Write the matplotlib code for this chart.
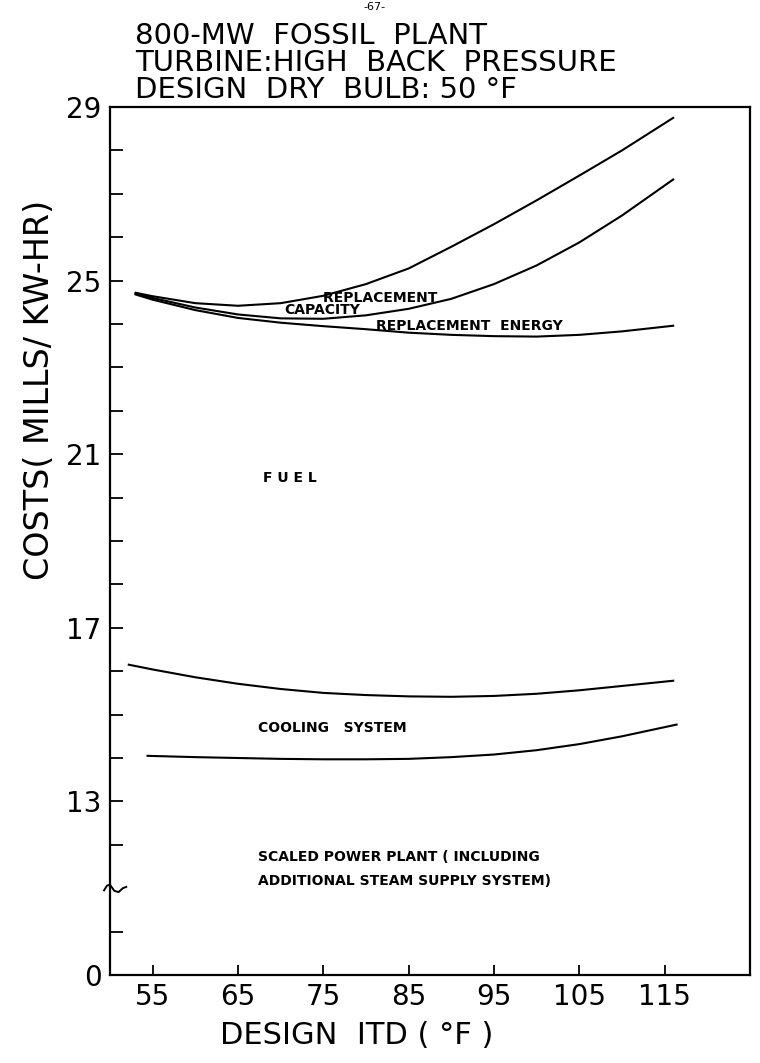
import numpy as np
import matplotlib.pyplot as plt

plt.rcParams['font.family'] = ['DejaVu Sans']

# Design ITD (deg F) sample points
itd_top = [53, 55, 60, 65, 70, 75, 80, 85, 90, 95, 100, 105, 110, 116]
# total incl. replacement capacity (upper curve)
cost_capacity = [24.72, 24.64, 24.48, 24.42, 24.48, 24.65, 24.92, 25.28, 25.78, 26.30, 26.85, 27.42, 28.00, 28.75]
# total incl. replacement energy (middle curve)
cost_energy = [24.70, 24.60, 24.38, 24.22, 24.13, 24.12, 24.20, 24.35, 24.58, 24.92, 25.35, 25.88, 26.50, 27.33]
# fuel (lower of the three)
cost_fuel = [24.68, 24.56, 24.32, 24.14, 24.03, 23.95, 23.88, 23.80, 23.75, 23.72, 23.71, 23.75, 23.83, 23.96]

itd_cool = [52.2, 55, 60, 65, 70, 75, 80, 85, 90, 95, 100, 105, 110, 116]
cost_cooling = [16.15, 16.04, 15.86, 15.71, 15.59, 15.50, 15.45, 15.42, 15.41, 15.43, 15.48, 15.56, 15.66, 15.78]

itd_plant = [54.4, 60, 65, 70, 75, 80, 85, 90, 95, 100, 105, 110, 116.4]
cost_plant = [14.05, 14.02, 14.00, 13.98, 13.97, 13.97, 13.98, 14.02, 14.08, 14.18, 14.32, 14.50, 14.77]

xticks = [55, 65, 75, 85, 95, 105, 115]
yticks = [9, 13, 17, 21, 25, 29]
ytick_labels = ['0', '13', '17', '21', '25', '29']
yminor = [10, 12, 14, 15, 16, 18, 19, 20, 22, 23, 24, 26, 27, 28]

title = ['800-MW  FOSSIL  PLANT', 'TURBINE:HIGH  BACK  PRESSURE', 'DESIGN  DRY  BULB: 50 \u00b0F']

fig = plt.figure(figsize=(7.6, 10.63), dpi=100)
ax = fig.add_axes([110/760, 1 - 975/1063, 640/760, 868/1063])

for xs, ys in [(itd_top, cost_capacity), (itd_top, cost_energy), (itd_top, cost_fuel),
               (itd_cool, cost_cooling), (itd_plant, cost_plant)]:
    ax.plot(xs, ys, color='black', lw=1.5)

ax.set_xlim(50, 125)
ax.set_ylim(9, 29)
ax.set_xticks(xticks)
ax.set_yticks(yticks)
ax.set_yticklabels(ytick_labels)
ax.set_yticks(yminor, minor=True)
ax.tick_params(axis='y', which='both', direction='in', length=9, width=1.3,
               labelsize=20, pad=6)
ax.tick_params(axis='x', which='both', direction='in', length=7, width=1.3,
               labelsize=20, pad=6)
for s in ax.spines.values():
    s.set_linewidth(1.6)

# axis break on the y axis
bx = 50 + np.array([-0.7, -0.35, 0.0, 0.5, 1.0, 1.5, 1.9])
by = 11 + np.array([-0.05, 0.06, 0.08, -0.06, -0.09, 0.0, 0.03])
ax.plot(bx, by, color='black', lw=1.4, clip_on=False)

lbl = dict(fontsize=10, fontweight='bold', color='black')
# the two labels touch in the original, keep them as one text block
ax.text(70.4, 24.17, '        REPLACEMENT\nCAPACITY', va='bottom', ha='left',
        linespacing=0.8, **lbl)
ax.text(81.2, 23.95, 'REPLACEMENT  ENERGY', va='center', ha='left', **lbl)
ax.text(67.9, 20.45, 'F U E L', va='center', ha='left', **lbl)
ax.text(67.4, 14.68, 'COOLING   SYSTEM', va='center', ha='left', **lbl)
ax.text(67.4, 11.73, 'SCALED POWER PLANT ( INCLUDING', va='center', ha='left', **lbl)
ax.text(67.4, 11.17, 'ADDITIONAL STEAM SUPPLY SYSTEM)', va='center', ha='left', **lbl)

fig.text(375/760, 1 - 7/1063, '-67-', fontsize=8, ha='center', va='center')
fig.text(135/760, 1 - 22/1063, '\n'.join(title), fontsize=21, ha='left', va='top',
         linespacing=0.95)

fig.text(40/760, 1 - 390/1063, 'COSTS( MILLS/ KW-HR)', fontsize=24, rotation=90,
         ha='center', va='center')
fig.text(357/760, 1 - 1035/1063, 'DESIGN  ITD ( \u00b0F )', fontsize=22,
         ha='center', va='center')

fig.savefig('out.png', dpi=100)
